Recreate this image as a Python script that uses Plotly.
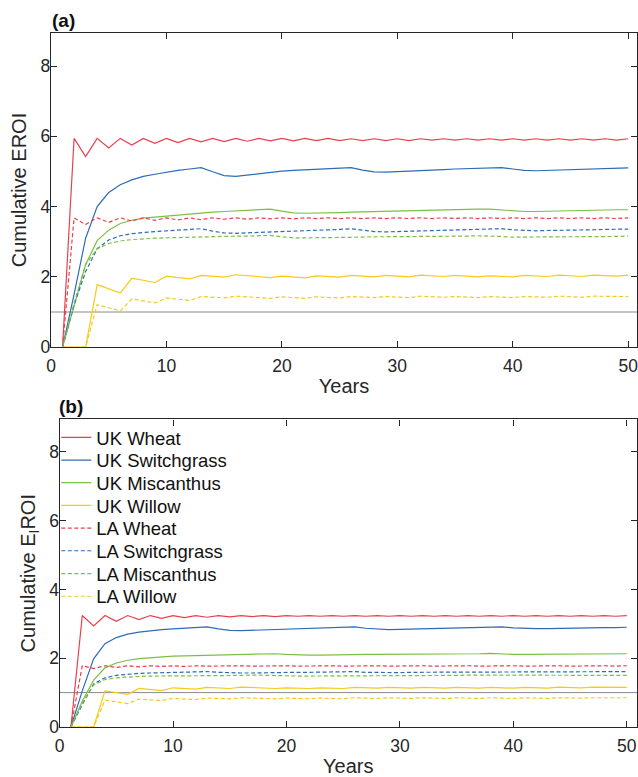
import plotly.graph_objects as go

years = list(range(1, 51))

# ---------- Panel (a): Cumulative EROI ----------
uk_wheat_a = [0, 5.94, 5.42, 5.94, 5.67, 5.94, 5.75, 5.94, 5.80, 5.94,
              5.82, 5.94, 5.84, 5.94, 5.85, 5.94, 5.86, 5.94, 5.87, 5.94,
              5.87, 5.94, 5.88, 5.94, 5.88, 5.93, 5.88, 5.93, 5.88, 5.93,
              5.88, 5.93, 5.89, 5.93, 5.89, 5.93, 5.89, 5.93, 5.89, 5.93,
              5.89, 5.93, 5.89, 5.93, 5.89, 5.93, 5.89, 5.93, 5.89, 5.93]
uk_switch_a = [0, 1.50, 3.10, 4.00, 4.40, 4.62, 4.76, 4.86, 4.92, 4.98,
               5.03, 5.07, 5.11, 4.99, 4.88, 4.86, 4.90, 4.94, 4.98, 5.01,
               5.03, 5.05, 5.06, 5.08, 5.09, 5.11, 5.04, 4.99, 4.98, 4.99,
               5.01, 5.03, 5.04, 5.05, 5.07, 5.08, 5.09, 5.10, 5.11, 5.07,
               5.03, 5.02, 5.03, 5.04, 5.05, 5.06, 5.07, 5.08, 5.09, 5.10]
uk_misc_a = [0, 1.15, 2.35, 3.03, 3.33, 3.52, 3.61, 3.67, 3.70, 3.74,
             3.77, 3.80, 3.82, 3.84, 3.86, 3.88, 3.90, 3.92, 3.93, 3.87,
             3.82, 3.81, 3.81, 3.82, 3.83, 3.84, 3.85, 3.86, 3.87, 3.88,
             3.88, 3.89, 3.90, 3.91, 3.91, 3.92, 3.93, 3.93, 3.90, 3.87,
             3.86, 3.86, 3.87, 3.88, 3.88, 3.89, 3.90, 3.90, 3.91, 3.91]
uk_willow_a = [0, 0, 0, 1.78, 1.66, 1.54, 1.96, 1.90, 1.84, 2.02,
               1.98, 1.94, 2.04, 2.01, 1.99, 2.06, 2.03, 2.00, 1.98, 2.02,
               2.00, 1.97, 2.03, 2.01, 1.99, 2.04, 2.02, 2.00, 2.04, 2.02,
               2.00, 2.05, 2.03, 2.01, 2.04, 2.02, 2.00, 2.03, 2.01, 2.00,
               2.04, 2.02, 2.01, 2.05, 2.03, 2.01, 2.05, 2.03, 2.02, 2.05]
la_wheat_a = [0, 3.68, 3.49, 3.68, 3.55, 3.68, 3.59, 3.68, 3.61, 3.68,
              3.62, 3.68, 3.63, 3.68, 3.64, 3.68, 3.64, 3.68, 3.65, 3.68,
              3.65, 3.68, 3.66, 3.68, 3.66, 3.68, 3.66, 3.68, 3.66, 3.68,
              3.66, 3.68, 3.66, 3.68, 3.66, 3.68, 3.66, 3.68, 3.66, 3.68,
              3.66, 3.68, 3.66, 3.68, 3.66, 3.68, 3.66, 3.68, 3.66, 3.68]
la_switch_a = [0, 1.20, 2.15, 2.80, 3.05, 3.17, 3.23, 3.27, 3.29, 3.31,
               3.33, 3.35, 3.37, 3.30, 3.25, 3.24, 3.25, 3.27, 3.28, 3.30,
               3.31, 3.32, 3.33, 3.34, 3.35, 3.37, 3.32, 3.29, 3.28, 3.29,
               3.30, 3.31, 3.32, 3.33, 3.34, 3.35, 3.35, 3.36, 3.37, 3.34,
               3.32, 3.31, 3.32, 3.32, 3.33, 3.34, 3.34, 3.35, 3.35, 3.36]
la_misc_a = [0, 1.25, 2.35, 2.80, 2.95, 3.02, 3.06, 3.09, 3.10, 3.11,
             3.12, 3.13, 3.14, 3.15, 3.15, 3.16, 3.16, 3.17, 3.18, 3.14,
             3.11, 3.11, 3.11, 3.12, 3.12, 3.13, 3.13, 3.14, 3.14, 3.14,
             3.15, 3.15, 3.15, 3.16, 3.16, 3.16, 3.17, 3.17, 3.15, 3.13,
             3.13, 3.13, 3.13, 3.14, 3.14, 3.14, 3.15, 3.15, 3.15, 3.16]
la_willow_a = [0, 0, 0, 1.21, 1.12, 1.03, 1.37, 1.31, 1.26, 1.40,
               1.37, 1.33, 1.44, 1.42, 1.40, 1.45, 1.43, 1.41, 1.39, 1.43,
               1.41, 1.39, 1.43, 1.41, 1.40, 1.44, 1.42, 1.41, 1.44, 1.43,
               1.41, 1.45, 1.43, 1.42, 1.44, 1.43, 1.41, 1.44, 1.42, 1.41,
               1.44, 1.43, 1.42, 1.45, 1.43, 1.42, 1.45, 1.44, 1.43, 1.44]

# ---------- Panel (b): Cumulative E_I ROI ----------
uk_wheat_b = [0, 3.24, 2.94, 3.24, 3.07, 3.24, 3.12, 3.24, 3.16, 3.24,
              3.18, 3.24, 3.19, 3.24, 3.20, 3.24, 3.21, 3.24, 3.21, 3.24,
              3.22, 3.24, 3.22, 3.24, 3.22, 3.24, 3.22, 3.24, 3.22, 3.24,
              3.22, 3.24, 3.22, 3.24, 3.22, 3.24, 3.22, 3.24, 3.22, 3.24,
              3.22, 3.24, 3.22, 3.24, 3.22, 3.24, 3.22, 3.24, 3.22, 3.24]
uk_switch_b = [0, 1.05, 1.98, 2.42, 2.60, 2.70, 2.76, 2.80, 2.83, 2.85,
               2.87, 2.89, 2.91, 2.85, 2.81, 2.80, 2.81, 2.82, 2.83, 2.85,
               2.86, 2.87, 2.88, 2.89, 2.90, 2.91, 2.87, 2.84, 2.83, 2.84,
               2.85, 2.86, 2.87, 2.87, 2.88, 2.89, 2.89, 2.90, 2.91, 2.88,
               2.86, 2.86, 2.86, 2.87, 2.87, 2.88, 2.88, 2.89, 2.89, 2.90]
uk_misc_b = [0, 0.75, 1.36, 1.72, 1.86, 1.94, 1.99, 2.02, 2.04, 2.06,
             2.07, 2.08, 2.09, 2.10, 2.11, 2.12, 2.12, 2.13, 2.13, 2.11,
             2.09, 2.09, 2.09, 2.10, 2.10, 2.10, 2.11, 2.11, 2.11, 2.12,
             2.12, 2.12, 2.12, 2.13, 2.13, 2.13, 2.13, 2.14, 2.12, 2.11,
             2.11, 2.11, 2.11, 2.12, 2.12, 2.12, 2.12, 2.13, 2.13, 2.13]
uk_willow_b = [0, 0, 0, 1.05, 1.00, 0.95, 1.12, 1.09, 1.06, 1.14,
               1.12, 1.10, 1.15, 1.13, 1.12, 1.16, 1.14, 1.13, 1.12, 1.14,
               1.13, 1.12, 1.14, 1.13, 1.12, 1.15, 1.14, 1.13, 1.15, 1.14,
               1.13, 1.15, 1.14, 1.13, 1.15, 1.14, 1.13, 1.15, 1.14, 1.13,
               1.15, 1.14, 1.13, 1.16, 1.15, 1.14, 1.16, 1.15, 1.14, 1.15]
la_wheat_b = [0, 1.78, 1.70, 1.78, 1.73, 1.78, 1.75, 1.78, 1.76, 1.78,
              1.76, 1.78, 1.77, 1.78, 1.77, 1.78, 1.77, 1.78, 1.77, 1.78,
              1.77, 1.78, 1.77, 1.78, 1.77, 1.78, 1.77, 1.78, 1.77, 1.78,
              1.77, 1.78, 1.77, 1.78, 1.77, 1.78, 1.77, 1.78, 1.77, 1.78,
              1.77, 1.78, 1.77, 1.78, 1.77, 1.78, 1.77, 1.78, 1.77, 1.78]
la_switch_b = [0, 0.65, 1.25, 1.43, 1.50, 1.54, 1.56, 1.57, 1.58, 1.59,
               1.60, 1.60, 1.61, 1.59, 1.57, 1.57, 1.57, 1.58, 1.58, 1.59,
               1.59, 1.59, 1.60, 1.60, 1.61, 1.61, 1.59, 1.58, 1.58, 1.58,
               1.59, 1.59, 1.59, 1.60, 1.60, 1.60, 1.61, 1.61, 1.61, 1.60,
               1.59, 1.59, 1.59, 1.60, 1.60, 1.60, 1.60, 1.61, 1.61, 1.61]
la_misc_b = [0, 0.70, 1.22, 1.38, 1.43, 1.46, 1.47, 1.48, 1.48, 1.49,
             1.49, 1.49, 1.50, 1.50, 1.50, 1.50, 1.51, 1.51, 1.51, 1.49,
             1.48, 1.48, 1.48, 1.49, 1.49, 1.49, 1.49, 1.49, 1.50, 1.50,
             1.50, 1.50, 1.50, 1.50, 1.50, 1.51, 1.51, 1.51, 1.50, 1.49,
             1.49, 1.49, 1.49, 1.49, 1.50, 1.50, 1.50, 1.50, 1.50, 1.50]
la_willow_b = [0, 0, 0, 0.78, 0.73, 0.68, 0.81, 0.79, 0.77, 0.83,
               0.82, 0.80, 0.84, 0.83, 0.82, 0.85, 0.84, 0.83, 0.82, 0.84,
               0.83, 0.82, 0.84, 0.83, 0.82, 0.85, 0.84, 0.83, 0.85, 0.84,
               0.83, 0.85, 0.84, 0.83, 0.85, 0.84, 0.83, 0.85, 0.84, 0.83,
               0.85, 0.84, 0.83, 0.85, 0.84, 0.84, 0.85, 0.85, 0.84, 0.85]

series_names = ["UK Wheat", "UK Switchgrass", "UK Miscanthus", "UK Willow",
                "LA Wheat", "LA Switchgrass", "LA Miscanthus", "LA Willow"]
series_a = [uk_wheat_a, uk_switch_a, uk_misc_a, uk_willow_a,
            la_wheat_a, la_switch_a, la_misc_a, la_willow_a]
series_b = [uk_wheat_b, uk_switch_b, uk_misc_b, uk_willow_b,
            la_wheat_b, la_switch_b, la_misc_b, la_willow_b]
colors = ["#E8404B", "#2E6CB6", "#7CC043", "#F7CA18",
          "#E8404B", "#2E6CB6", "#7CC043", "#F7CA18"]
dashes = ["solid"] * 4 + ["4px,2.5px"] * 4
ref_level = 1  # EROI = 1 reference line
x_ticks = [0, 10, 20, 30, 40, 50]
y_ticks = [0, 2, 4, 6, 8]

FONT = "Liberation Sans, Arial, Helvetica, sans-serif"
AX = "#262626"

W, H = 638, 777
ml, mr, mt, mb = 50.7, 1, 33, 777 - 726.7
pw, ph = W - ml - mr, H - mt - mb


def fx(px):
    return (px - ml) / pw


def fy(py):
    return (H - mb - py) / ph


legend_ids = ["legend"] + [f"legend{i}" for i in range(2, 9)]
legend_rows = [437.7, 460.4, 483.0, 505.7, 528.4, 551.0, 573.8, 596.5]

fig = go.Figure()
for name, ya, yb, c, d, lid in zip(series_names, series_a, series_b, colors, dashes, legend_ids):
    fig.add_trace(go.Scatter(x=years, y=ya, mode="lines", name=name,
                             line=dict(color=c, width=1.2, dash=d),
                             showlegend=False, xaxis="x", yaxis="y"))
    fig.add_trace(go.Scatter(x=years, y=yb, mode="lines", name=name,
                             line=dict(color=c, width=1.2, dash=d),
                             showlegend=True, legend=lid, xaxis="x2", yaxis="y2"))

axis_common = dict(
    showline=True, linecolor=AX, linewidth=1.3, mirror="ticks",
    ticks="inside", ticklen=6, tickwidth=1.3, tickcolor=AX,
    showgrid=False, zeroline=False, ticklabeloverflow="allow",
    tickfont=dict(family=FONT, size=17.5, color=AX),
)
title_font = dict(size=20, family=FONT, color=AX)

layout = dict(
    width=W, height=H,
    margin=dict(l=ml, r=mr, t=mt, b=mb, pad=0),
    plot_bgcolor="white", paper_bgcolor="white",
    font=dict(family=FONT, color=AX),
    xaxis=dict(domain=[0, 1], range=[0, 50.76], tickvals=x_ticks,
               anchor="y", ticklabelstandoff=3,
               title=dict(text="Years", font=title_font, standoff=3),
               **axis_common),
    yaxis=dict(domain=[fy(347), 1], range=[0, 8.94], tickvals=y_ticks,
               anchor="x", ticklabelstandoff=-4,
               title=dict(text="Cumulative EROI", font=title_font, standoff=8),
               **axis_common),
    xaxis2=dict(domain=[fx(59.3), 1], range=[0, 50.9], tickvals=x_ticks,
                anchor="y2", ticklabelstandoff=3,
                title=dict(text="Years", font=title_font, standoff=3),
                **axis_common),
    yaxis2=dict(domain=[0, fy(419.3)], range=[0, 8.94], tickvals=y_ticks,
                anchor="x2", ticklabelstandoff=-4,
                title=dict(text="Cumulative E<sub>I</sub>ROI", font=title_font, standoff=8),
                **axis_common),
    shapes=[
        dict(type="line", xref="x domain", yref="y", x0=0, x1=1, y0=ref_level, y1=ref_level,
             line=dict(color="#8a8a8a", width=1), layer="below"),
        dict(type="line", xref="x2 domain", yref="y2", x0=0, x1=1, y0=ref_level, y1=ref_level,
             line=dict(color="#8a8a8a", width=1), layer="below"),
    ],
    annotations=[
        dict(text="<b>(a)</b>", xref="paper", yref="paper", x=fx(50), y=fy(33), xanchor="left",
             yanchor="bottom", showarrow=False, font=dict(size=19, family=FONT, color="#111111")),
        dict(text="<b>(b)</b>", xref="paper", yref="paper", x=fx(57), y=fy(419.3), xanchor="left",
             yanchor="bottom", showarrow=False, font=dict(size=19, family=FONT, color="#111111")),
    ],
)
for lid, row in zip(legend_ids, legend_rows):
    layout[lid] = dict(x=fx(56), y=fy(row), xanchor="left", yanchor="middle",
                       bgcolor="rgba(0,0,0,0)", borderwidth=0,
                       font=dict(family=FONT, size=18.5, color="#111111"),
                       itemwidth=30)

fig.update_layout(**layout)
# remove the browser's default 8px body margin so the figure fills the window exactly
fig.write_html("out.html",
               config={"displayModeBar": False},
               post_script="document.body.style.margin='0';document.body.style.overflow='hidden';")
